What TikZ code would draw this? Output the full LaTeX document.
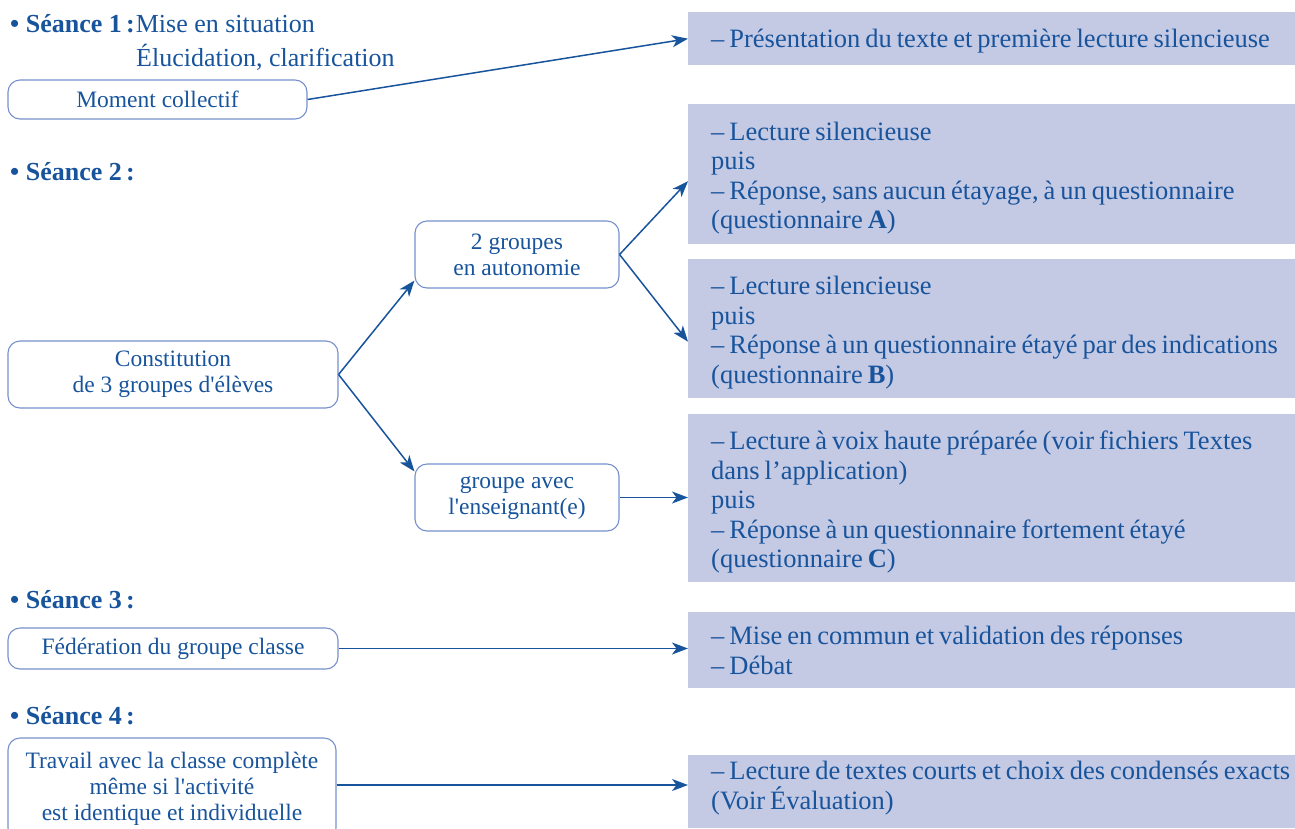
\documentclass[tikz,border=0pt]{standalone}
\usepackage{fontspec}
\setmainfont{Liberation Serif}
\newfontfamily\tight{Liberation Serif}[WordSpace=0.75]
\usepackage{tikz}
\usetikzlibrary{arrows.meta,calc,positioning}

\definecolor{ink}{RGB}{24,84,156}
\definecolor{rim}{RGB}{118,144,204}
\definecolor{pale}{RGB}{196,201,228}

\tikzset{
  head/.style={text=ink,font=\fontsize{26}{29.5}\selectfont,inner sep=0,anchor=base west},
  round/.style={draw=rim,line width=1.1pt,rounded corners=12pt,text=ink,align=center,
                font=\fontsize{23.5}{26}\selectfont,inner sep=0},
  info/.style={fill=pale,text=ink,font=\tight\fontsize{26.5}{29.5}\selectfont,align=flush left,
               text width=607pt,inner xsep=0,inner ysep=0,anchor=north west,
               execute at begin node={\leftskip=23pt}},
  link/.style={draw=ink,line width=1.5pt,-{Stealth[length=16pt,width=12pt,inset=4.5pt]}}
}
\newcommand{\qs}{\textquotesingle}

\begin{document}
\begin{tikzpicture}[x=1pt,y=-1pt]
  \clip (0,0) rectangle (1295,828);

  % headings
  \node[head] (h1)  at (10,32)  {\textbf{• Séance 1\,:}\hspace{1pt}Mise en situation};
  \node[head] (h1b) at (136,66) {Élucidation, clarification};
  \node[head] (h2)  at (10,180) {\textbf{• Séance 2\,:}};
  \node[head] (h3)  at (10,608) {\textbf{• Séance 3\,:}};
  \node[head] (h4)  at (10,724) {\textbf{• Séance 4\,:}};

  % left boxes
  \node[round,minimum width=299pt,minimum height=39pt] (mc) at (157.5,99.5) {Moment collectif};
  \node[round,minimum width=330pt,minimum height=67pt] (cg) at (173,374.5) {Constitution\\de 3 groupes d\qs élèves};
  \node[round,minimum width=204pt,minimum height=67pt] (ga) at (517,254.5) {2 groupes\\en autonomie};
  \node[round,minimum width=204pt,minimum height=67pt] (ge) at (517,497.5) {groupe avec\\l\qs enseignant(e)};
  \node[round,minimum width=330pt,minimum height=41pt] (fg) at (173,648.5) {Fédération du groupe classe};
  \node[round,minimum width=328pt,minimum height=102pt] (tc) at (172,789) {Travail avec la classe complète\\même si l\qs activité\\est identique et individuelle};

  % right boxes
  \node[info,minimum height=53pt,text depth=0pt]   (b1) at (688,12)  {– Présentation du texte et première lecture silencieuse};
  \node[info,minimum height=140pt,text depth=86pt] (b2) at (688,104) {– Lecture silencieuse\\puis\\– Réponse, sans aucun étayage, à un questionnaire\\(questionnaire \textbf{A})};
  \node[info,minimum height=139pt,text depth=86pt] (b3) at (688,259) {– Lecture silencieuse\\puis\\– Réponse à un questionnaire étayé par des indications\\(questionnaire \textbf{B})};
  \node[info,minimum height=168pt,text depth=116pt] (b4) at (688,414) {– Lecture à voix haute préparée (voir fichiers Textes\\dans l’application)\\puis\\– Réponse à un questionnaire fortement étayé\\(questionnaire \textbf{C})};
  \node[info,minimum height=76pt]  (b5) at (688,612) {– Mise en commun et validation des réponses\\– Débat};
  \node[info,minimum height=73pt,text depth=42pt] (b6) at (688,755) {\mbox{– Lecture de textes courts et choix des condensés exacts}\\(Voir Évaluation)};

  % connectors
  \draw[link] (mc.east) -- (b1.west);
  \draw[link] (cg.east) -- ([yshift=8pt]ga.south west);
  \draw[link] (cg.east) -- ([yshift=-8pt]ge.north west);
  \draw[link] (ga.east) -- ([yshift=-7pt]b2.west);
  \draw[link] (ga.east) -- ([yshift=-13pt]b3.west);
  \draw[link] (ge.east) -- (ge.east -| b4.west);
  \draw[link] (fg.east) -- (fg.east -| b5.west);
  \draw[link] ([yshift=4pt]tc.east) -- ([yshift=4pt]tc.east -| b6.west);
\end{tikzpicture}
\end{document}
